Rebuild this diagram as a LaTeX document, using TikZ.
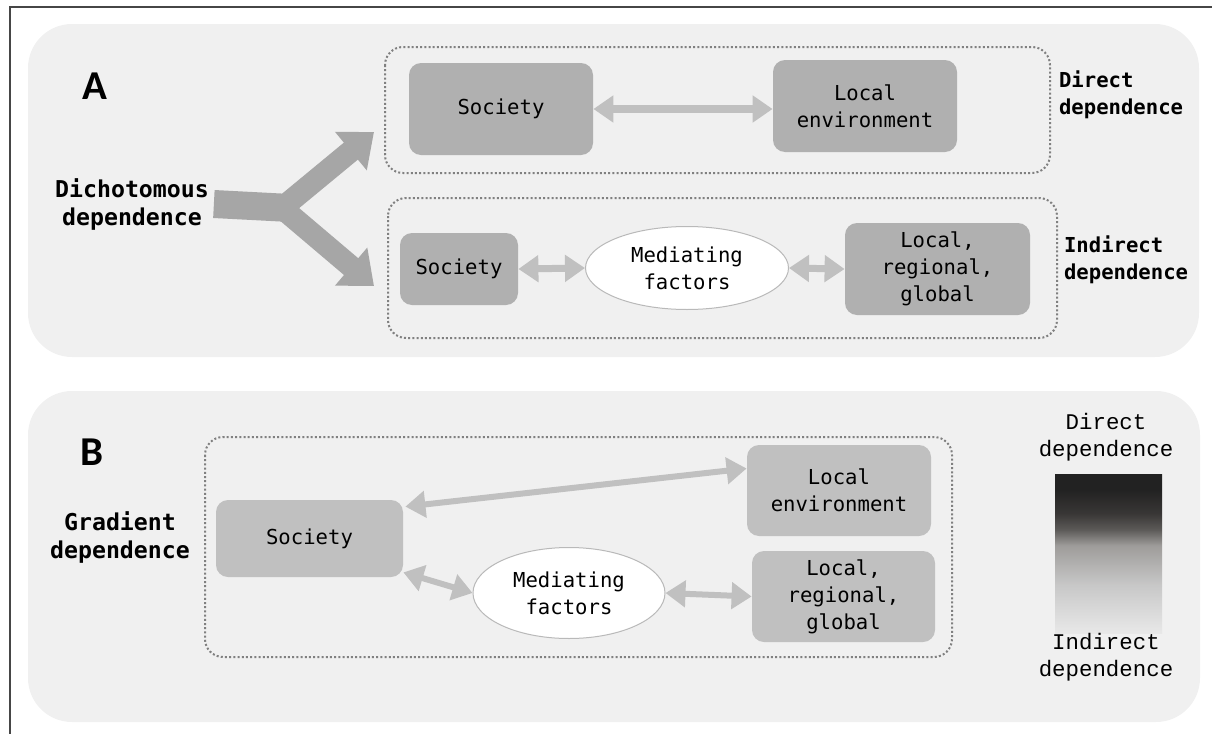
\documentclass[tikz,border=0pt]{standalone}
\usepackage{fontspec}
\usepackage{tikz}
\usetikzlibrary{calc, arrows.meta, positioning, shapes.geometric}
\newfontfamily\boxfont{DejaVu Sans Mono}
\newfontfamily\courfont{Liberation Mono}
\newfontfamily\letterfont{Carlito}

\definecolor{panelgray}{RGB}{240, 240, 240}
\definecolor{boxgrayA}{RGB}{176, 176, 176}
\definecolor{boxgrayB}{RGB}{192, 192, 192}
\definecolor{linkgray}{RGB}{192, 192, 192}
\definecolor{forkgray}{RGB}{166, 166, 166}
\definecolor{dotgray}{RGB}{128, 128, 128}
\definecolor{ovalgray}{RGB}{185, 185, 185}
\definecolor{framegray}{RGB}{70, 70, 70}
\definecolor{gradA}{RGB}{232, 232, 232}
\definecolor{gradB}{RGB}{200, 200, 200}
\definecolor{gradC}{RGB}{158, 156, 154}
\definecolor{gradD}{RGB}{92, 90, 88}
\definecolor{gradE}{RGB}{57, 55, 54}
\definecolor{gradF}{RGB}{34, 34, 34}
\pgfdeclareverticalshading{depscale}{100bp}{color(0bp)=(gradA); color(25bp)=(gradA);
  color(40bp)=(gradB); color(52.5bp)=(gradC); color(57.5bp)=(gradD);
  color(62.5bp)=(gradE); color(70bp)=(gradF); color(100bp)=(gradF)}

\begin{document}
\begin{tikzpicture}[x=0.5pt, y=-0.5pt,
        panel/.style={fill=panelgray, rounded corners=22pt},
        group/.style={draw=dotgray, line width=1pt, dash pattern=on 1pt off 1.1pt, rounded corners=9pt},
        cellA/.style={fill=boxgrayA, rounded corners=6pt, inner sep=0pt, align=center,
            font=\boxfont\fontsize{10.3}{13.5}\selectfont},
        cellB/.style={cellA, fill=boxgrayB},
        medfac/.style={ellipse, draw=ovalgray, fill=white, line width=0.5pt, inner sep=0pt, align=center,
            font=\boxfont\fontsize{10.3}{13.5}\selectfont},
        deplabel/.style={align=center, font=\boxfont\bfseries\fontsize{11.6}{14}\selectfont},
        sidelabel/.style={align=left, anchor=west, font=\boxfont\bfseries\fontsize{10.3}{13.3}\selectfont},
        scalelabel/.style={align=center, font=\courfont\fontsize{11.2}{13.5}\selectfont},
        panelletter/.style={font=\letterfont\bfseries\fontsize{20.5}{22}\selectfont},
        twoway/.style={draw=linkgray, line width=4pt, {Triangle[length=10pt, width=13pt]}-{Triangle[length=10pt, width=13pt]}},
        branch/.style={draw=forkgray, line width=11pt, -{Triangle[length=15pt, width=24pt]}}]
        \useasboundingbox (0,0) rectangle (1212,734);
        \draw[framegray, line width=0.8pt] (10,734) -- (10,7) -- (1212,7);

        % A: dichotomous dependence
        \fill[panel] (28,24) rectangle (1199,357);
        \node[panelletter] (letA) at (95,86) {A};
        \draw[group] (385,47) rectangle (1050,173);
        \draw[group] (388,198) rectangle (1057,338);
        \node[deplabel] (dich) at (132,204) {Dichotomous\\dependence};
        \node[sidelabel] (direct) at (1052,95) {Direct\\dependence};
        \node[sidelabel] (indirect) at (1057,260) {Indirect\\dependence};

        \node[cellA, minimum width=92pt, minimum height=46pt] (socA) at (501,109) {Society};
        \node[cellA, minimum width=92pt, minimum height=46pt] (envA) at (865,106) {Local\\environment};
        \node[cellA, minimum width=59pt, minimum height=36pt] (socAA) at (459,269) {Society};
        \node[medfac, minimum width=101.5pt, minimum height=41.5pt] (medA) at (687,268) {Mediating\\factors};
        \node[cellA, minimum width=92.5pt, minimum height=46pt] (scaleA) at (937.5,269) {Local,\\regional,\\global};

        \coordinate (fork) at (290,208);
        \coordinate (tipD) at (374,132);
        \coordinate (tipI) at (374,286);
        \draw[forkgray, line width=14pt] ([xshift=-1pt]dich.east) -- (fork);
        \draw[branch] (282,208) -- (tipD);
        \draw[branch] (282,208) -- (tipI);

        \draw[twoway] (socA.east) -- (socA.east -| envA.west);
        \draw[twoway, line width=3.5pt] (socAA.east) -- (medA.west);
        \draw[twoway, line width=3.5pt] (medA.east) -- (scaleA.west);

        % B: gradient dependence
        \fill[panel] (28,391) rectangle (1200,722);
        \node[panelletter] (letB) at (92,452) {B};
        \draw[group] (205,437) rectangle (952,657);
        \node[deplabel] (grad) at (120,537) {Gradient\\dependence};

        \node[cellB, minimum width=93.5pt, minimum height=38.5pt] (socB) at (309.5,538.5) {Society};
        \node[cellB, minimum width=92pt, minimum height=45.5pt] (envB) at (839,490.5) {Local\\environment};
        \node[cellB, minimum width=91.5pt, minimum height=45.5pt] (scaleB) at (843.5,596.5) {Local,\\regional,\\global};
        \node[medfac, minimum width=96pt, minimum height=45.5pt] (medB) at (569,593) {Mediating\\factors};

        \draw[twoway, line width=3pt] ($(socB.north east)+(2,7)$) -- ($(envB.west)+(0,-22)$);
        \draw[twoway, line width=3pt] ($(socB.south east)+(0,-5)$) -- (medB.west);
        \draw[twoway, line width=3pt] (medB.east) -- (scaleB.west);

        \shade[shading=depscale] (1055,474) rectangle (1162,633);
        \node[scalelabel] (topdep) at (1106,437) {Direct\\dependence};
        \node[scalelabel] (botdep) at (1106,657) {Indirect\\dependence};
\end{tikzpicture}
\end{document}
